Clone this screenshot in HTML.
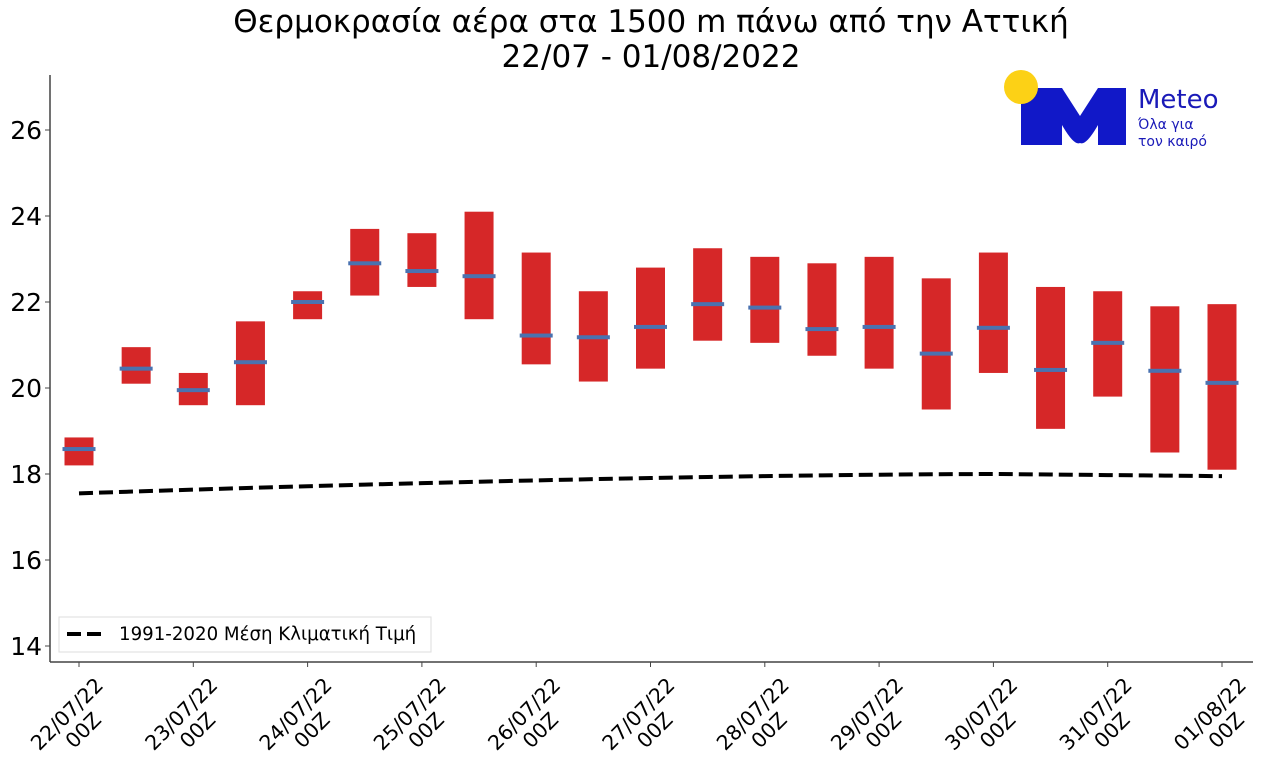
<!DOCTYPE html>
<html><head><meta charset="utf-8"><style>
html,body{margin:0;padding:0;background:#fff;}
svg{display:block;font-family:"DejaVu Sans","Liberation Sans",sans-serif;}
</style></head><body>
<svg id="s" width="1280" height="774" viewBox="0 0 1280 774" xmlns="http://www.w3.org/2000/svg">
<text x="651" y="32" font-size="31" text-anchor="middle" fill="#000">Θερμοκρασία αέρα στα 1500 m πάνω από την Αττική</text>
<text x="651" y="67" font-size="31" text-anchor="middle" fill="#000">22/07 - 01/08/2022</text>
<g id="g"></g>
<line x1="50" y1="75" x2="50" y2="662" stroke="#444" stroke-width="1.5"/>
<line x1="50" y1="662" x2="1253" y2="662" stroke="#444" stroke-width="1.5"/>
<g>
<path d="M1021,88 L1062,88 L1080,116 L1098,88 L1126,88 L1126,145 L1098,145 L1098,125 Q1086,146 1080,143 Q1074,146 1062,125 L1062,145 L1021,145 Z" fill="#1118c8"/>
<circle cx="1021" cy="87" r="17" fill="#fcd116"/>
<text x="1138" y="108" font-size="26" fill="#1a1ab8">Meteo</text>
<text x="1138" y="129" font-size="14" fill="#1a1ab8">Όλα για</text>
<text x="1138" y="146" font-size="14" fill="#1a1ab8">τον καιρό</text>
</g>
<rect x="59" y="617" width="372" height="35" fill="#fff" stroke="#ddd"/>
<line x1="67" y1="634" x2="104" y2="634" stroke="#000" stroke-width="4" stroke-dasharray="14,6"/>
<text x="119" y="640" font-size="18.2" fill="#000">1991-2020 Μέση Κλιματική Τιμή</text>
</svg>
<script>
var g=document.getElementById('g'),h='';
function Y(v){return 474-(v-18)*43;}
var d=[[18.2,18.85,18.58],[20.1,20.95,20.45],[19.6,20.35,19.95],[19.6,21.55,20.6],[21.6,22.25,22.0],[22.15,23.7,22.9],[22.35,23.6,22.72],[21.6,24.1,22.6],[20.55,23.15,21.22],[20.15,22.25,21.18],[20.45,22.8,21.42],[21.1,23.25,21.95],[21.05,23.05,21.87],[20.75,22.9,21.37],[20.45,23.05,21.42],[19.5,22.55,20.8],[20.35,23.15,21.4],[19.05,22.35,20.42],[19.8,22.25,21.05],[18.5,21.9,20.4],[18.1,21.95,20.12]];
for(var i=0;i<21;i++){var x=79+i*57.15,b=d[i];
h+='<rect x="'+(x-14.5)+'" y="'+Y(b[1])+'" width="29" height="'+(Y(b[0])-Y(b[1]))+'" fill="#d62728"/>';
h+='<rect x="'+(x-16.5)+'" y="'+(Y(b[2])-2)+'" width="33" height="4" fill="#4a72b0"/>';}
var pts=[];for(var i=0;i<21;i++){var x=79+i*57.15;var v=i<=16?17.55+0.45*(1-Math.pow(1-i/16,1.6)):18.0-0.05*(i-16)/4;pts.push(x+','+Y(v));}
h+='<polyline points="'+pts.join(' ')+'" fill="none" stroke="#000" stroke-width="4" stroke-dasharray="14,6"/>';
for(var v=14;v<=26;v+=2){var y=Y(v);h+='<line x1="45" y1="'+y+'" x2="50" y2="'+y+'" stroke="#444"/><text x="42" y="'+(y+9)+'" font-size="25" text-anchor="end">'+v+'</text>';}
var lab=['22/07/22','23/07/22','24/07/22','25/07/22','26/07/22','27/07/22','28/07/22','29/07/22','30/07/22','31/07/22','01/08/22'];
for(var i=0;i<11;i++){var x=79+i*114.3;h+='<line x1="'+x+'" y1="662" x2="'+x+'" y2="667" stroke="#444"/>';
h+='<g transform="translate('+(x-12)+',714) rotate(-45)"><text font-size="20.5" text-anchor="middle"><tspan x="0" y="7">'+lab[i]+'</tspan><tspan x="0" y="30">00Z</tspan></text></g>';}
g.innerHTML=h;
</script>
</body></html>
